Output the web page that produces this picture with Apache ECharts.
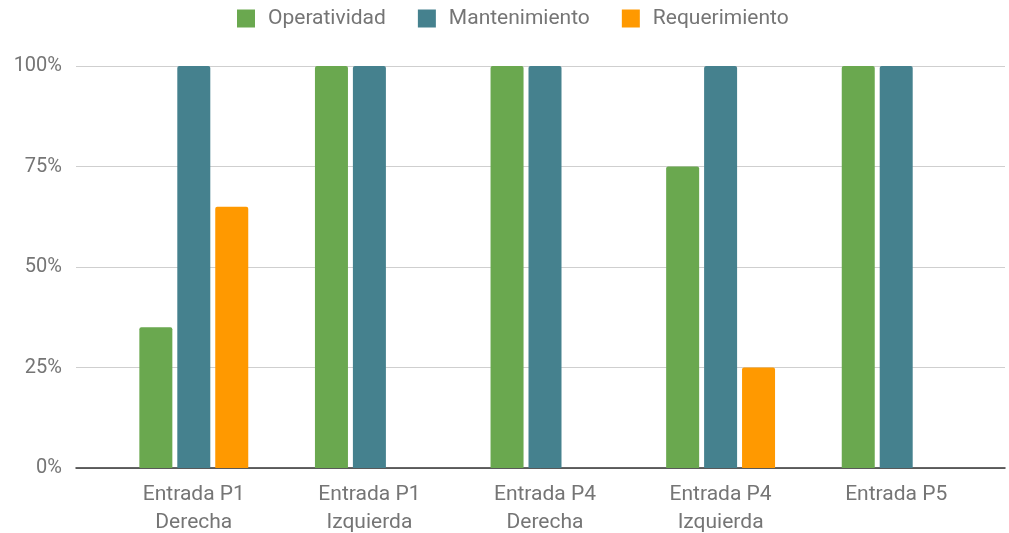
<!DOCTYPE html>
<html>
<head>
<meta charset="utf-8">
<script src="https://cdn.jsdelivr.net/npm/echarts@6/dist/echarts.min.js"></script>
<style>
  html, body { margin: 0; padding: 0; background: #fff; }
  #grafica { width: 1009px; height: 533px; }
</style>
</head>
<body>
<div id="grafica"></div>
<script>
// Datos de la gráfica
var categorias = ['Entrada P1\nDerecha', 'Entrada P1\nIzquierda', 'Entrada P4\nDerecha', 'Entrada P4\nIzquierda', 'Entrada P5'];
var operatividad = [35, 100, 100, 75, 100];
var mantenimiento = [100, 100, 100, 100, 100];
var requerimiento = [65, null, null, 25, null];
var ticksY = [0, 25, 50, 75, 100];

var fuente = 'Roboto';
var grisTexto = '#757575';

var chart = echarts.init(document.getElementById('grafica'));

var option = {
  animation: false,
  textStyle: { fontFamily: fuente },
  legend: {
    top: 3,
    left: 232,
    itemWidth: 18,
    itemHeight: 18,
    itemGap: 32,
    icon: 'rect',
    textStyle: { color: grisTexto, fontSize: 21, fontFamily: fuente, padding: [0, 0, 0, 8] },
    data: ['Operatividad', 'Mantenimiento', 'Requerimiento']
  },
  grid: [
    // rejilla ancha: líneas horizontales y etiquetas del eje Y
    { left: 76, right: 4, top: 66, bottom: 65, outerBoundsMode: 'none' },
    // rejilla de las barras
    { left: 106, right: 25, top: 66, bottom: 65, outerBoundsMode: 'none' }
  ],
  xAxis: [
    {
      gridIndex: 0, type: 'value', min: 0, max: 1,
      axisLine: { show: true, onZero: false, lineStyle: { color: '#333', width: 1.5 } },
      axisTick: { show: false }, axisLabel: { show: false }, splitLine: { show: false }
    },
    {
      gridIndex: 1, type: 'category', data: categorias,
      axisLine: { show: false }, axisTick: { show: false },
      axisLabel: { color: grisTexto, fontSize: 21, lineHeight: 28, margin: 13, interval: 0 }
    }
  ],
  yAxis: [
    {
      gridIndex: 0, type: 'value', min: ticksY[0], max: ticksY[ticksY.length - 1], interval: 25,
      axisLine: { show: false }, axisTick: { show: false },
      axisLabel: { color: grisTexto, fontSize: 20, margin: 14, formatter: '{value}%' },
      splitLine: { lineStyle: { color: '#cfcfcf', width: 1 } }
    },
    {
      gridIndex: 1, type: 'value', min: 0, max: 100,
      axisLine: { show: false }, axisTick: { show: false },
      axisLabel: { show: false }, splitLine: { show: false }
    }
  ],
  series: [
    {
      name: 'Operatividad', type: 'bar', xAxisIndex: 1, yAxisIndex: 1,
      data: operatividad, barWidth: 33, barGap: '15%',
      itemStyle: { color: '#6aa84f', borderRadius: [2, 2, 0, 0] }
    },
    {
      name: 'Mantenimiento', type: 'bar', xAxisIndex: 1, yAxisIndex: 1,
      data: mantenimiento, barWidth: 33, barGap: '15%',
      itemStyle: { color: '#45818e', borderRadius: [2, 2, 0, 0] }
    },
    {
      name: 'Requerimiento', type: 'bar', xAxisIndex: 1, yAxisIndex: 1,
      data: requerimiento, barWidth: 33, barGap: '15%',
      itemStyle: { color: '#ff9900', borderRadius: [2, 2, 0, 0] }
    }
  ]
};

chart.setOption(option);
</script>
</body>
</html>
